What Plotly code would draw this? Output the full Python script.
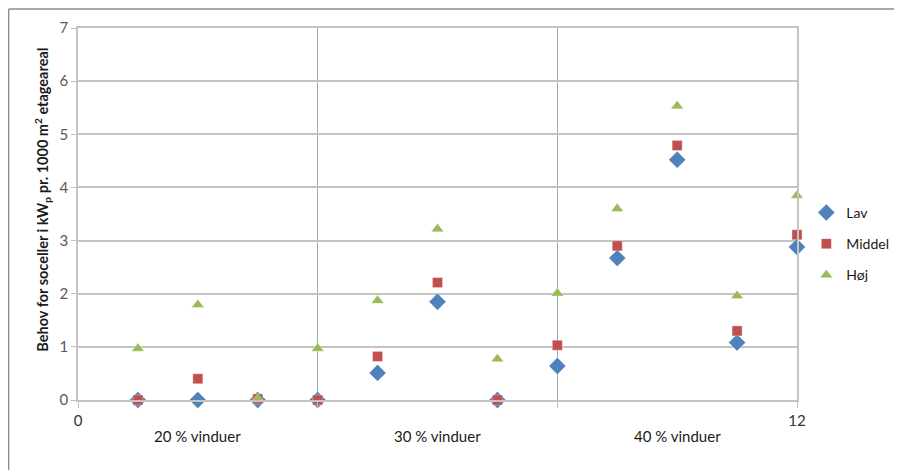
import plotly.graph_objects as go

# data
x_pos = [1, 2, 3, 4, 5, 6, 7, 8, 9, 10, 11, 12]
lav = [0, 0, 0, 0, 0.51, 1.85, 0, 0.64, 2.67, 4.52, 1.08, 2.88]
middel = [0, 0.40, 0.02, 0, 0.82, 2.21, 0, 1.03, 2.90, 4.79, 1.30, 3.11]
hoej = [0.97, 1.79, 0.02, 0.97, 1.87, 3.22, 0.77, 2.01, 3.60, 5.53, 1.96, 3.85]
group_labels = ["20 % vinduer", "30 % vinduer", "40 % vinduer"]
group_centers = [2, 6, 10]
x_labelled = [0, 12]
y_title = "<b>Behov for soceller i kW<sub>p</sub> pr. 1000 m<sup>2</sup> etageareal</b>"

font_family = "Lato, 'Open Sans', sans-serif"

fig = go.Figure()

series = [
    ("Lav", lav, "diamond", "#4F81BD", 13),
    ("Middel", middel, "square", "#C0504D", 10),
    ("Høj", hoej, "triangle-up", "#9BBB59", 11),
]
for name, vals, symbol, color, size in series:
    fig.add_trace(go.Scatter(
        x=x_pos, y=vals,
        mode="markers",
        name=name,
        legendgroup=name,
        marker=dict(symbol=symbol, color=color, size=size,
                    line=dict(width=0.5, color="rgba(255,255,255,0.6)")),
        cliponaxis=False
    ))

# window-share group labels below the axis
for lbl, cx in zip(group_labels, group_centers):
    fig.add_annotation(x=cx, y=-0.097, xref="x", yref="paper",
                       yanchor="middle",
                       text=lbl, showarrow=False,
                       font=dict(size=15, color="#1a1a1a", family=font_family))

# y title as annotation so it can sit a little above centre like the original
fig.add_annotation(x=-0.049, y=0.538, xref="paper", yref="paper",
                   xanchor="center", yanchor="middle",
                   text=y_title, textangle=-90, showarrow=False,
                   font=dict(size=14.5, color="#1a1a1a", family=font_family))

# outer chart frame (top and left edges visible)
fig.add_shape(type="line", xref="paper", yref="paper",
              x0=-0.0965, x1=1.2, y0=1.051, y1=1.051,
              line=dict(color="#8c8c8c", width=1.5))
fig.add_shape(type="line", xref="paper", yref="paper",
              x0=-0.0965, x1=-0.0965, y0=1.051, y1=-0.3,
              line=dict(color="#8c8c8c", width=1.5))

# page body has an 8px margin, so the figure is sized to the visible area
fig.update_layout(
    width=894, height=462,
    margin=dict(l=70, r=105, t=20, b=70, autoexpand=False),
    paper_bgcolor="white",
    plot_bgcolor="white",
    font=dict(family=font_family, size=13, color="#595959"),
    showlegend=True,
    legend=dict(
        x=1.013, y=0.546, xanchor="left", yanchor="top",
        font=dict(size=14, color="#1a1a1a"),
        traceorder="grouped",
        tracegroupgap=10,
        itemwidth=30,
        bgcolor="rgba(0,0,0,0)"
    ),
    xaxis=dict(
        range=[0, 12],
        tickvals=x_labelled,
        ticks="outside", ticklen=6, tickcolor="#bfbfbf",
        showgrid=False,
        minor=dict(dtick=4, tick0=0, showgrid=True, gridcolor="#a6a6a6",
                   gridwidth=1, ticks="outside", ticklen=6, tickcolor="#bfbfbf"),
        showline=True, linecolor="#c4c4c4", linewidth=1.5, mirror=True,
        zeroline=False,
        automargin=False,
        tickfont=dict(size=15, color="#333333"),
        fixedrange=True
    ),
    yaxis=dict(
        range=[0, 7],
        dtick=1,
        ticks="outside", ticklen=5, tickcolor="#bfbfbf",
        showgrid=True, gridcolor="#c4c4c4", gridwidth=1.5,
        showline=True, linecolor="#c4c4c4", linewidth=1.5, mirror=True,
        zeroline=False,
        automargin=False,
        tickfont=dict(size=15, color="#595959"),
        fixedrange=True
    )
)

fig.write_html("out.html")
